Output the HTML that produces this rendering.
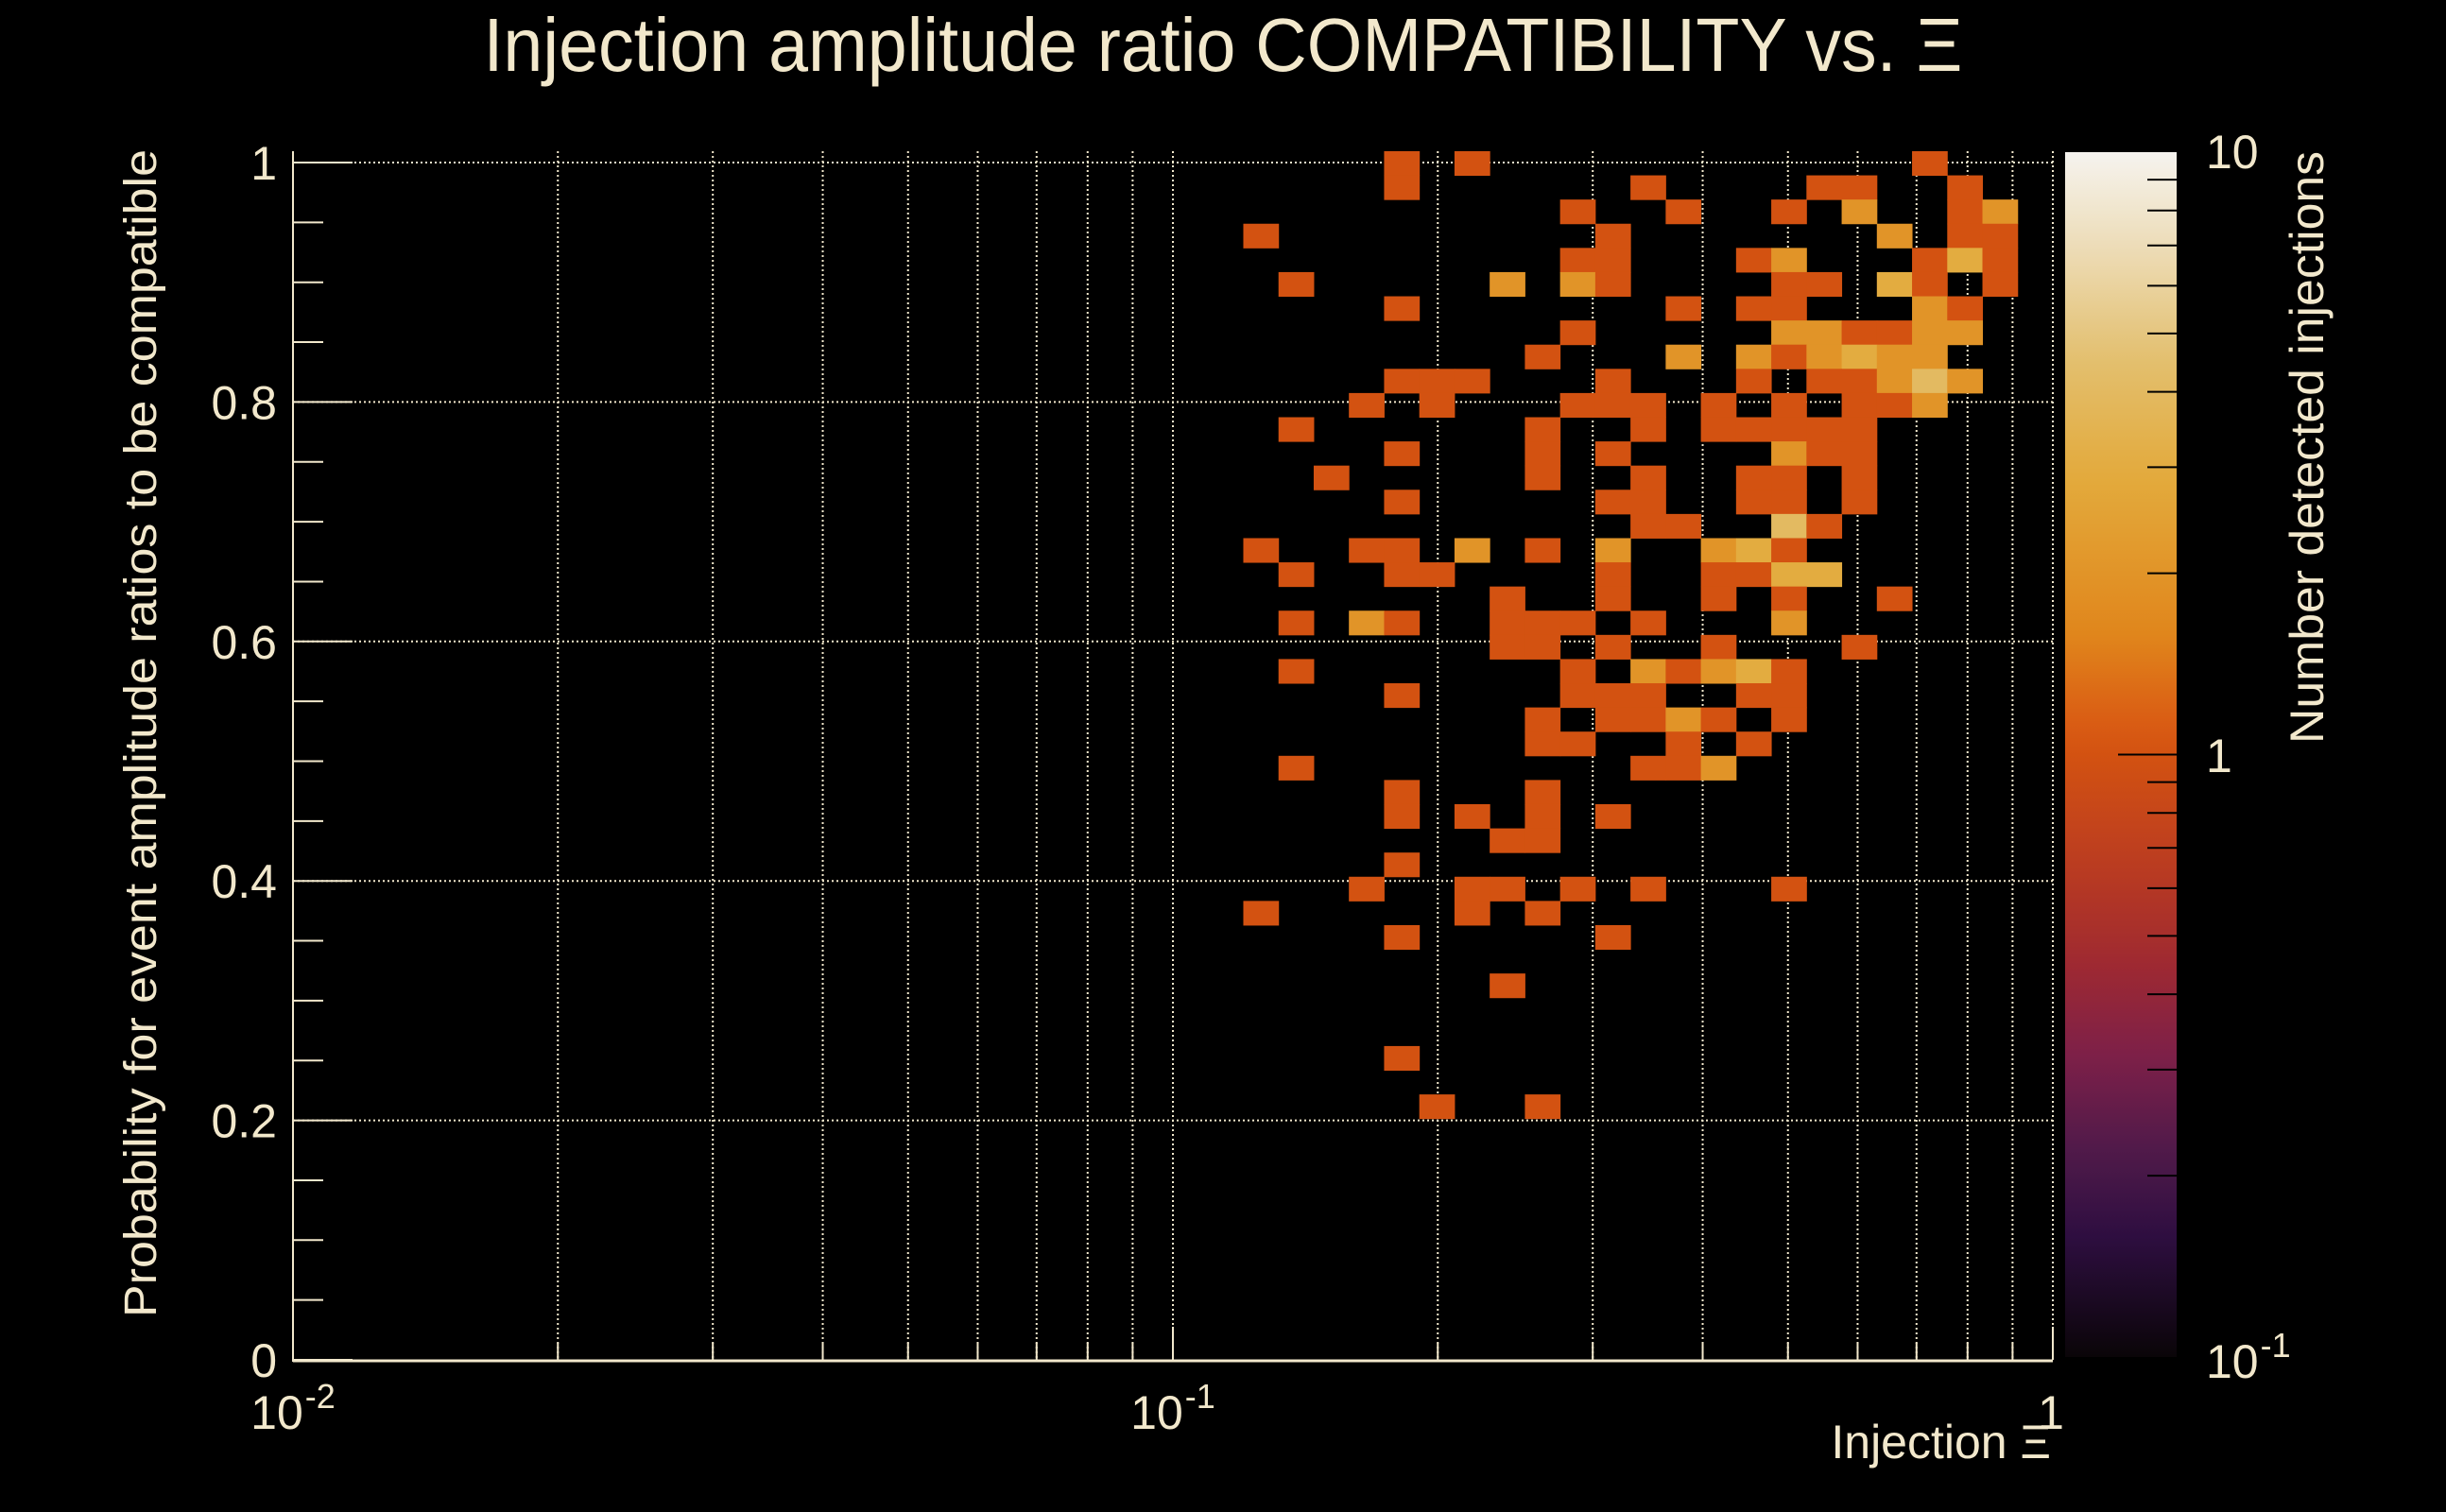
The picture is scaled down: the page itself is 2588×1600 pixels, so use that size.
<!DOCTYPE html>
<html><head><meta charset="utf-8"><style>
html,body{margin:0;padding:0;background:#000;}
svg{display:block;}
text{font-family:"Liberation Sans",sans-serif;fill:#F2E8CC;}
</style></head><body>
<svg id="chart" width="2588" height="1600" viewBox="0 0 2588 1600" xmlns="http://www.w3.org/2000/svg">
<rect x="0" y="0" width="2588" height="1600" fill="#000"/>
<g id="grid"></g>
<g id="cells"></g>
<g id="axes"></g>
<g id="cbar"></g>
<text x="1294" y="75" font-size="80" text-anchor="middle" textLength="1565" lengthAdjust="spacingAndGlyphs">Injection amplitude ratio COMPATIBILITY vs.  Ξ</text>
<text transform="translate(165,776) rotate(-90)" font-size="48" text-anchor="middle" textLength="1236" lengthAdjust="spacingAndGlyphs">Probability for event amplitude ratios to be compatible</text>
<text x="2170" y="1543" font-size="50" text-anchor="end">Injection Ξ</text>
<text transform="translate(2458,160) rotate(-90)" font-size="50" text-anchor="end" textLength="627" lengthAdjust="spacingAndGlyphs">Number detected injections</text>
</svg>
<script>
// ---- data ----
const xTickValues = [0.01, 0.1, 1];
const xTickLabels = ["10", "10", "1"];
const xTickExps = ["-2", "-1", ""];
const yTickValues = [0, 0.2, 0.4, 0.6, 0.8, 1];
const yTickLabels = ["0", "0.2", "0.4", "0.6", "0.8", "1"];
const cbarTickValues = [0.1, 1, 10];
// cell column (log-x bin, 50 bins 1e-2..1), row (y bin from top), count
const cellCol = [
31,33,46,
31,38,43,44,47,
36,39,42,44,47,48,
27,37,45,47,48,
36,37,41,42,46,47,48,
28,34,36,37,42,43,45,46,48,
31,39,41,42,46,47,
36,42,43,44,45,46,47,
35,39,41,42,43,44,45,46,
31,32,33,37,41,43,44,45,46,47,
30,32,36,37,38,40,42,44,45,46,
28,35,38,40,41,42,43,44,
31,35,37,42,43,44,
29,35,38,41,42,44,
31,37,38,41,42,44,
38,39,42,43,
27,30,31,33,35,37,40,41,42,
28,31,32,37,40,41,42,43,
34,37,40,42,45,
28,30,31,34,35,36,38,42,
34,35,37,40,44,
28,36,38,39,40,41,42,
31,36,37,38,41,42,
35,37,38,39,40,42,
35,36,39,41,
28,38,39,40,
31,35,
31,33,35,37,
34,35,
31,
30,33,34,36,38,42,
27,33,35,
31,37,
34,
31,
32,35];
const cellRow = [
0,0,0,
1,1,1,1,1,
2,2,2,2,2,2,
3,3,3,3,3,
4,4,4,4,4,4,4,
5,5,5,5,5,5,5,5,5,
6,6,6,6,6,6,
7,7,7,7,7,7,7,
8,8,8,8,8,8,8,8,
9,9,9,9,9,9,9,9,9,9,
10,10,10,10,10,10,10,10,10,10,
11,11,11,11,11,11,11,11,
12,12,12,12,12,12,
13,13,13,13,13,13,
14,14,14,14,14,14,
15,15,15,15,
16,16,16,16,16,16,16,16,16,
17,17,17,17,17,17,17,17,
18,18,18,18,18,
19,19,19,19,19,19,19,19,
20,20,20,20,20,
21,21,21,21,21,21,21,
22,22,22,22,22,22,
23,23,23,23,23,23,
24,24,24,24,
25,25,25,25,
26,26,
27,27,27,27,
28,28,
29,
30,30,30,30,30,30,
31,31,31,
32,32,
34,
37,
39,39];
const cellCount = [
1,1,1,
1,1,1,1,1,
1,1,1,2,1,2,
1,1,2,1,1,
1,1,1,2,1,3,1,
1,2,2,1,1,1,3,1,1,
1,1,1,1,2,1,
1,2,2,1,1,2,2,
1,2,2,1,2,3,2,2,
1,1,1,1,1,1,1,2,4,2,
1,1,1,1,1,1,1,1,1,2,
1,1,1,1,1,1,1,1,
1,1,1,2,1,1,
1,1,1,1,1,1,
1,1,1,1,1,1,
1,1,4,1,
1,1,1,2,1,2,2,3,1,
1,1,1,1,1,1,3,3,
1,1,1,1,1,
1,2,1,1,1,1,1,2,
1,1,1,1,1,
1,1,2,1,2,3,1,
1,1,1,1,1,1,
1,1,1,2,1,1,
1,1,1,1,
1,1,1,2,
1,1,
1,1,1,1,
1,1,
1,
1,1,1,1,1,1,
1,1,1,
1,1,
1,
1,
1,1];

// ---- geometry ----
const NS = "http://www.w3.org/2000/svg";
const PX0 = 310, PX1 = 2172, PY0 = 1439, PY1 = 172;
const nXBins = 50, xLogMin = -2, xLogMax = 0;
const yBinTop = 1.0095, yBinW = 0.0202;
function xPix(v){ return PX0 + (Math.log10(v) - xLogMin) / (xLogMax - xLogMin) * (PX1 - PX0); }
function yPix(v){ return PY0 + v * (PY1 - PY0); }
function colEdge(i){ return Math.pow(10, xLogMin + (xLogMax - xLogMin) * i / nXBins); }
function rowEdge(r){ return yBinTop - yBinW * r; }
const CB_X0 = 2185, CB_X1 = 2303, CB_Y0 = 1436, CB_Y1 = 161;
function cbPix(v){ return CB_Y0 + (Math.log10(v) + 1) / 2 * (CB_Y1 - CB_Y0); }
const stops = [[0,"#0A0508"],[0.1,"#2E0E40"],[0.17,"#4F1A4A"],[0.25,"#7D2048"],[0.33,"#A02A30"],[0.4,"#B83A22"],[0.5,"#D35211"],[0.53,"#DA5E14"],[0.6,"#E0861C"],[0.73,"#E3AA3C"],[0.83,"#E3C070"],[0.93,"#EEDFBE"],[1,"#F5F3EF"]];
function hex(c){ return [1,3,5].map(k=>parseInt(c.substr(k,2),16)); }
function cmap(t){
  t = Math.max(0, Math.min(1, t));
  for (let k=1;k<stops.length;k++){
    if (t <= stops[k][0]){
      const a=stops[k-1], b=stops[k], f=(t-a[0])/(b[0]-a[0]);
      const ca=hex(a[1]), cb=hex(b[1]);
      return "rgb("+ca.map((x,j)=>Math.round(x+(cb[j]-x)*f)).join(",")+")";
    }
  }
  return stops[stops.length-1][1];
}
function countColor(n){ return cmap((Math.log10(n) + 1) / 2); }
function mk(tag, attrs, parent){ const e=document.createElementNS(NS,tag); for(const k in attrs) e.setAttribute(k, attrs[k]); parent.appendChild(e); return e; }

const grid = document.getElementById("grid");
const cellsG = document.getElementById("cells");
const axes = document.getElementById("axes");
const cbar = document.getElementById("cbar");
const cream = "#F2E8CC";

// grid lines
const gridXVals = [];
for (const d of [0.01, 0.1]) for (let m=1;m<=9;m++) gridXVals.push(d*m);
gridXVals.push(1);
gridXVals.forEach(v=>{
  const x = xPix(v);
  const l = mk("line",{x1:x,x2:x,y1:160,y2:PY0,stroke:cream,"stroke-width":2,"stroke-dasharray":"2 3"},grid);
  
  
});
yTickValues.forEach(v=>{
  if (v===0) return;
  const y = yPix(v);
  const l = mk("line",{x1:PX0,x2:PX1,y1:y,y2:y,stroke:cream,"stroke-width":2,"stroke-dasharray":"2 3"},grid);
  
  
});

// cells
for (let k=0;k<cellCol.length;k++){
  const x0 = xPix(colEdge(cellCol[k])), x1 = xPix(colEdge(cellCol[k]+1));
  const y0 = yPix(rowEdge(cellRow[k])), y1 = yPix(rowEdge(cellRow[k]+1));
  const r = mk("rect",{x:x0,y:y0,width:x1-x0+0.5,height:y1-y0+0.5,fill:countColor(cellCount[k])},cellsG);
  
  
}

// axes lines
let ax = mk("line",{x1:PX0,x2:PX1,y1:PY0+1,y2:PY0+1,stroke:cream,"stroke-width":3},axes);


ax = mk("line",{x1:PX0,x2:PX0,y1:160,y2:PY0+2,stroke:cream,"stroke-width":2},axes);



// x ticks
gridXVals.forEach(v=>{
  const x = xPix(v), major = xTickValues.some(t=>Math.abs(t-v)<1e-9);
  const t = mk("line",{x1:x,x2:x,y1:PY0,y2:PY0-(major?35:18),stroke:cream,"stroke-width":2},axes);
  
  
});
xTickValues.forEach((v,i)=>{
  const x = xPix(v);
  const t = mk("text",{x:x+(xTickExps[i]?0:-2),y:1512,"font-size":50,"text-anchor":"middle"},axes);
  t.textContent = xTickLabels[i];
  
  
  if (xTickExps[i]){
    const s = mk("tspan",{dx:2,dy:-22,"font-size":36},t);
    s.textContent = xTickExps[i];
  }
});
// y ticks
for (let k=0;k<=20;k++){
  const v = k*0.05, y = yPix(v), major = (k%4===0);
  const t = mk("line",{x1:PX0,x2:PX0+(major?63:32),y1:y,y2:y,stroke:cream,"stroke-width":2},axes);
  
  
}
yTickValues.forEach((v,i)=>{
  const t = mk("text",{x:293,y:yPix(v)+18,"font-size":50,"text-anchor":"end"},axes);
  t.textContent = yTickLabels[i];
  
  
});

// colorbar
const defs = mk("defs",{},cbar);
const grad = mk("linearGradient",{id:"cg",x1:0,y1:1,x2:0,y2:0},defs);
for (let k=0;k<=40;k++){ mk("stop",{offset:k/40,"stop-color":cmap(k/40)},grad); }
const cb = mk("rect",{x:CB_X0,y:CB_Y1,width:CB_X1-CB_X0,height:CB_Y0-CB_Y1,fill:"url(#cg)"},cbar);


for (const d of [0.1, 1]) for (let m=2;m<=9;m++){
  const y = cbPix(d*m);
  const t = mk("line",{x1:CB_X1-31,x2:CB_X1,y1:y,y2:y,stroke:"#000","stroke-width":2},cbar);
  
  
}
{
  const y = cbPix(1);
  const t = mk("line",{x1:CB_X1-62,x2:CB_X1,y1:y,y2:y,stroke:"#000","stroke-width":2},cbar);
  
  
}
const cbLabels = [["10","-1",1458],["1","",817],["10","",178]];
cbarTickValues.forEach((v,i)=>{
  const t = mk("text",{x:2334,y:cbLabels[i][2],"font-size":50},cbar);
  t.textContent = cbLabels[i][0];
  
  
  if (cbLabels[i][1]){
    const s = mk("tspan",{dx:2,dy:-22,"font-size":36},t);
    s.textContent = cbLabels[i][1];
  }
});
</script>
</body></html>
